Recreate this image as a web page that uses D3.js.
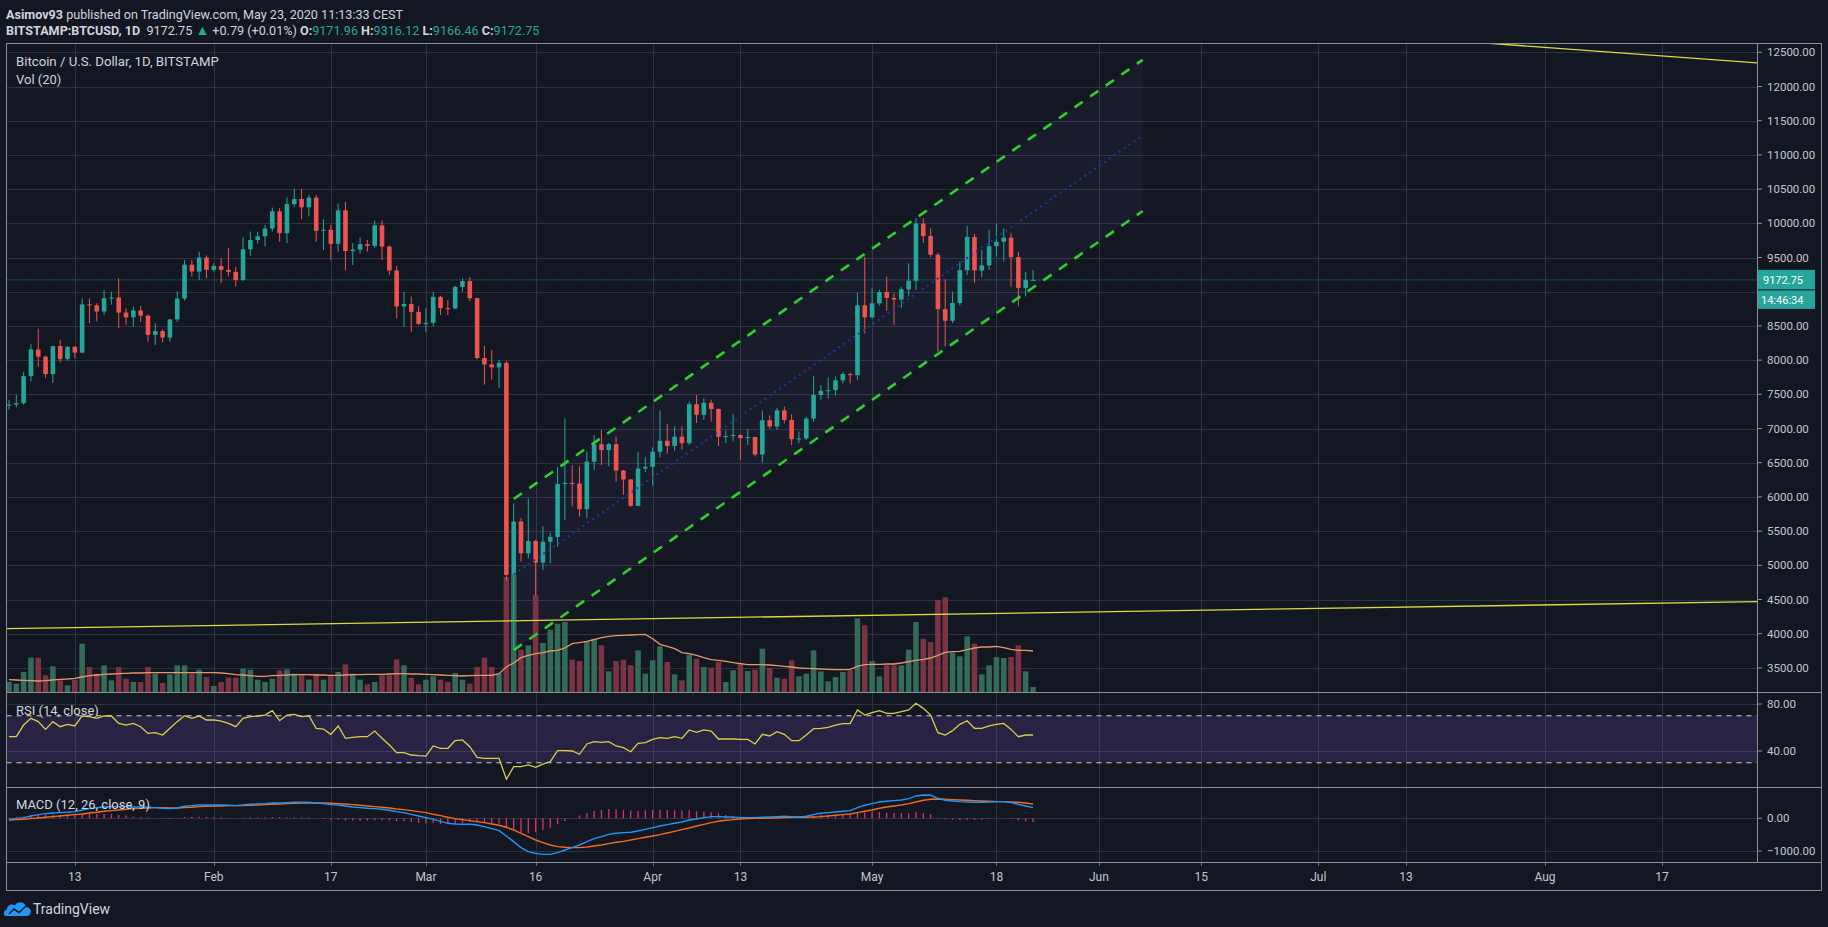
<!DOCTYPE html>
<html><head><meta charset="utf-8">
<script src="https://cdn.jsdelivr.net/npm/d3@7"></script>
<style>
html,body{margin:0;padding:0;background:#131722;overflow:hidden;}
svg{display:block;font-family:Roboto,"Noto Sans",sans-serif;}
text{white-space:pre;}
</style></head><body>
<svg id="chart" width="1828" height="927"></svg>
<script>
// ---------- DATA ----------
const startDate = "2020-01-04";
const endDate = "2020-05-23";
const opens = [7345,7350,7370,7765,8155,8050,7795,8205,8015,8195, 8110,8815,8800,8710,8905,8915,8695,8625,8725,8650, 8370,8425,8330,8595,8900,9395,9295,9500,9320,9375, 9320,9290,9170,9620,9755,9810,9925,10175,9855,10280, 10355,10235,10375,9890,9905,9700,10190,9595,9615,9695, 9670,9970,9660,9310,8785,8820,8705,8530,8545,8925, 8760,8755,9070,9155,8905,8030,7935,7895,7960,4860, 5640,5175,5355,5040,5345,5415,6190,6205,6195,5820, 6515,6770,6685,6770,6385,6255,5870,6415,6440,6660, 6820,6745,6880,6785,7355,7200,7375,7285,6880,6890, 6905,6860,6875,6620,7120,7030,7265,7125,6845,6855, 7145,7490,7550,7560,7705,7795,7780,8800,8625,8830, 8995,8910,8885,9035,9160,9995,9815,9540,8745,8575, 8835,9315,9800,9310,9385,9665,9730,9790,9505,9055, 9171.96];
const highs = [7415,7490,7830,8235,8460,8065,8210,8295,8200,8200, 8900,8900,8830,9025,9000,9195,8755,8780,8790,8670, 8540,8450,8600,9000,9465,9465,9585,9530,9415,9490, 9635,9365,9795,9880,9875,9975,10230,10220,10380,10510, 10500,10415,10415,10060,9975,10290,10315,9710,9795,9755, 10040,10040,9680,9375,9000,8930,8790,8760,9000,8935, 8880,9085,9195,9215,8910,8210,8150,8000,7985,5905, 5690,5975,5375,5570,5475,6440,7150,6465,6445,6660, 6905,6980,6790,6880,6395,6260,6660,6580,6725,7265, 7065,7030,7030,7395,7490,7440,7420,7295,6970,7210, 6920,6990,6880,7260,7190,7300,7320,7205,6955,7170, 7765,7635,7745,7760,7830,7815,8985,9510,9050,9030, 9220,8975,9070,9415,10075,10075,9925,9570,9180,9000, 9440,9960,9845,9610,9905,9990,9925,9855,9585,9290, 9316.12];
const lows = [7275,7310,7350,7690,7905,7735,7665,7965,7990,8030, 8100,8540,8565,8660,8810,8465,8515,8490,8560,8270, 8220,8255,8270,8560,8870,9220,9170,9195,9295,9125, 9220,9075,9160,9525,9705,9660,9880,9730,9710,10245, 10060,10100,9730,9610,9465,9585,9310,9390,9560,9585, 9640,9465,9245,8610,8490,8415,8510,8415,8490,8660, 8660,8740,9000,8860,8010,7640,7715,7590,4780,3780, 5055,5100,4560,4930,5030,5275,5665,5860,5710,5690, 6395,6465,6445,6225,6030,5855,5860,6360,6165,6580, 6630,6675,6690,6760,7080,7125,7100,6745,6785,6810, 6540,6760,6590,6505,6995,6980,7075,6760,6785,6830, 7100,7420,7440,7480,7660,7660,7710,8390,8610,8800, 8720,8515,8760,8930,9025,9715,9505,8120,8200,8540, 8800,9245,9130,9210,9320,9515,9445,9075,8785,8930, 9166.46];
const closes = [7350,7370,7765,8155,8050,7795,8205,8015,8195,8110, 8815,8800,8710,8905,8915,8695,8625,8725,8650,8370, 8425,8330,8595,8900,9395,9295,9500,9320,9375,9320, 9290,9170,9620,9755,9810,9925,10175,9855,10280,10355, 10235,10375,9890,9905,9700,10190,9595,9615,9695,9670, 9970,9660,9310,8785,8820,8705,8530,8545,8925,8760, 8755,9070,9155,8905,8030,7935,7895,7960,4860,5640, 5175,5355,5040,5345,5415,6190,6205,6195,5820,6515, 6770,6685,6770,6385,6255,5870,6415,6440,6660,6820, 6745,6880,6785,7355,7200,7375,7285,6880,6890,6905, 6860,6875,6620,7120,7030,7265,7125,6845,6855,7145, 7490,7550,7560,7705,7795,7780,8800,8625,8830,8995, 8910,8885,9035,9160,9995,9815,9540,8745,8575,8835, 9315,9800,9310,9385,9665,9730,9790,9505,9055,9170, 9172.75];
const volumes = [3000,2500,6000,10300,10300,5000,7700,3500,2000,3700, 14500,7500,5500,8000,3500,7500,4000,3000,3000,7500, 5500,2700,5300,8000,8000,5500,6700,4500,1800,3000, 4300,4300,7000,6700,3700,3000,4000,6500,6800,5500, 5200,3700,5500,3700,5000,6000,8300,5500,3700,2300, 3000,5000,5000,9800,8000,4300,2300,3700,4700,3700, 3000,5700,3700,2500,7500,10300,7500,5500,34500,35100, 12700,14000,29100,14700,18700,20500,21000,9700,9300,15300, 16000,14000,6200,9300,9700,8000,12500,5500,9500,13700, 9000,5300,3500,11200,10000,7500,7300,9000,3000,6500, 8700,6300,6700,13000,7300,4300,4000,9500,4700,5500, 12500,6200,3200,4500,6000,6500,22100,20000,9300,4700, 8000,8000,8000,12700,21000,16000,15000,27600,28400,11800, 10700,16700,14500,5300,8000,10500,10200,10500,14000,6200, 1500];
const volumeMA = [3700,3600,3500,3400,3300,3400,3600,3800,3900,4100, 4500,4900,5100,5300,5400,5500,5600,5700,5700,5800, 5800,5800,5800,5800,5800,5800,5800,5800,5800,5700, 5500,5200,5100,4900,4700,4700,4900,5000,5100,5200, 5200,5200,5100,5100,5000,5000,5100,5200,5200,5300, 5300,5300,5400,5500,5500,5400,5400,5300,5200,5100, 5000,4900,4800,4900,5000,5000,5000,5500,7500,8700, 10300,11000,11500,11800,12300,12500,13200,14500,14800,15200, 15700,16300,16700,16900,17000,17100,17200,17300,16000,14300, 13700,13000,11800,11500,11000,10300,9700,9500,9200,8800, 8500,8200,8200,8200,8100,7900,7700,7500,7200,7100, 7000,6900,6800,6700,6700,6800,7700,8200,8300,8300, 8400,8400,8700,9100,9500,9800,10200,11000,11900,12100, 12200,12700,13200,13500,13500,13700,13300,12800,12500,12500, 12300];
const rsiValues = [52.2,52.2,62.1,67.8,65,58.4,65,60.7,62.7,61.3, 69.8,69.2,67.8,69.8,69.8,63.5,62.1,63.5,60.7,55, 55.6,53.6,59.3,65,70,67.8,69.8,66.4,66.4,65.5, 63.5,60.7,67.8,69.2,69.8,70.6,74.3,65.8,70.6,71.2, 69.2,70,59.3,58.7,54.2,61.3,50.8,51.6,52.2,52.2, 57,50.8,45.1,38.6,38.6,36.6,36,35.7,44.3,42.3, 42.3,48.8,49.4,43.7,34.6,33.8,33.8,33.8,15.9,26.7, 26.7,28.1,26.1,28.9,30.9,40.3,40.3,40,37.2,46, 47.9,47.4,47.9,44.3,42.8,39.4,46.5,47.1,49.9,51.3, 50.8,52.2,50.8,57.9,55.9,57.9,57,50.2,50.2,50.2, 49.9,49.9,46,54.2,52.8,56.5,54.2,48.8,48.8,53.6, 59,59.3,60.1,62.1,63.3,63.3,74.9,70.6,72.6,74.3, 72.1,72.1,73.5,74.9,80.6,76.3,70.6,55.6,53.6,57.3, 62.7,65.8,59.3,59.3,61.3,62.7,63.5,58.4,52.2,53.6, 53.6];
const macdLine = [-31,-10,20,71,112,143,163,173,184,204, 255,296,326,347,357,357,357,347,347,337, 326,306,296,316,367,388,408,408,408,408, 398,388,408,428,439,449,469,469,479,490, 490,490,469,449,418,408,377,347,326,306, 296,275,245,204,173,122,71,20,-31,-92, -153,-173,-184,-184,-204,-255,-316,-377,-541,-714, -898,-1020,-1071,-1102,-1102,-1051,-969,-898,-816,-714, -622,-561,-490,-459,-439,-428,-388,-337,-286,-235, -194,-153,-112,-51,-20,20,51,51,41,31, 20,20,20,31,41,51,61,51,41,61, 112,153,173,194,214,235,326,398,449,500, 520,541,561,602,683,714,704,612,551,530, 510,500,490,490,500,510,510,479,428,377, 326];
const signalLine = [-51,-41,-31,-10,10,31,51,71,92,112, 133,163,184,214,235,255,275,296,306,316, 326,326,316,316,326,337,357,367,377,377, 388,388,388,398,408,418,428,439,449,459, 469,469,469,469,459,449,439,418,398,377, 357,337,316,286,265,235,204,173,122,82, 31,-10,-41,-71,-102,-133,-173,-214,-275,-357, -459,-561,-663,-745,-816,-867,-887,-898,-898,-877, -847,-816,-775,-734,-704,-663,-622,-581,-541,-500, -449,-398,-347,-296,-235,-184,-133,-92,-61,-41, -20,-10,0,0,10,10,20,31,31,31, 41,51,71,92,112,133,173,214,255,306, 347,377,408,449,500,551,581,592,581,571, 561,551,541,530,520,510,510,500,490,469, 439];
const priceTicks = [12500,12000,11500,11000,10500,10000,9500,9000,8500,8000,7500,7000,6500,6000,5500,5000,4500,4000,3500];
const rsiTicks = [80,40];
const rsiBands = [70,30];
const macdTicks = [0,-1000];
const tickDates = ["2020-01-13","2020-02-01","2020-02-17","2020-03-01","2020-03-16","2020-04-01","2020-04-13","2020-05-01","2020-05-18","2020-06-01","2020-06-15","2020-07-01","2020-07-13","2020-08-01","2020-08-17"];
const tickLabels = ["13","Feb","17","Mar","16","Apr","13","May","18","Jun","15","Jul","13","Aug","17"];
const channelDates = ["2020-03-13","2020-06-07"];
const channelUpper = [5970,12390];
const channelLower = [3760,10180];
const supportDates = ["2020-01-03","2020-08-31"];
const supportPrices = [4073,4470];
const resistDates = ["2020-07-22","2020-08-31"];
const resistPrices = [12650,12336];
const lastPrice = 9172.75;
const countdown = "14:46:34";

// ---------- LAYOUT ----------
const svg = d3.select("#chart");
const C = {bg:"#131722", grid:"#2f3340", frame:"#8c8f99", text:"#d1d4dc", axisText:"#c3c6ce",
  up:"#26a69a", down:"#ef5350", volUp:"#336a58", volDown:"#7a3342", teal:"#26a69a"};
const L = 6.5, R = 1757, FR = 1821, T = 43.5, B = 890.5;
const P = {top:T, bottom:692}, RS = {top:692, bottom:787}, MC = {top:787, bottom:862};

svg.append("rect").attr("width",1828).attr("height",927).attr("fill",C.bg);

const parse = d3.utcParse("%Y-%m-%d");
const dates = d3.utcDay.range(parse(startDate), d3.utcDay.offset(parse(endDate),1));
const x = d3.scaleUtc().domain([parse(startDate), parse(endDate)]).range([9, 1033]);
const step = x(dates[1]) - x(dates[0]);
const y = d3.scaleLinear().domain([3500,12500]).range([667.9,52.3]);
const yVol = d3.scaleLinear().domain([0,40000]).range([692,692-133.3]);
const yRsi = d3.scaleLinear().domain([40,80]).range([751,704]);
const yMacd = d3.scaleLinear().domain([-1000,0]).range([851,818.3]);

const defs = svg.append("defs");
function clip(id, y0, y1){
  defs.append("clipPath").attr("id",id).append("rect").attr("x",L).attr("y",y0).attr("width",R-L).attr("height",y1-y0);
}
clip("cp",P.top,P.bottom); clip("cr",RS.top,RS.bottom); clip("cm",MC.top,MC.bottom);

// ---------- GRID ----------
const grid = svg.append("g").attr("shape-rendering","crispEdges").attr("stroke",C.grid).attr("stroke-width",1);
tickDates.forEach(d=>{
  const xx = Math.round(x(parse(d)))+0.5;
  grid.append("line").attr("x1",xx).attr("x2",xx).attr("y1",T).attr("y2",MC.bottom);
  grid.append("line").attr("x1",xx).attr("x2",xx).attr("y1",MC.bottom).attr("y2",MC.bottom+4).attr("stroke","#6a6d78");
});
priceTicks.forEach(p=>{
  const yy = Math.round(y(p))+0.5;
  grid.append("line").attr("x1",L).attr("x2",R).attr("y1",yy).attr("y2",yy);
});
rsiTicks.forEach(v=>{ const yy=Math.round(yRsi(v))+0.5; grid.append("line").attr("x1",L).attr("x2",R).attr("y1",yy).attr("y2",yy); });
macdTicks.forEach(v=>{ const yy=Math.round(yMacd(v))+0.5; grid.append("line").attr("x1",L).attr("x2",R).attr("y1",yy).attr("y2",yy); });

// ---------- PRICE PANE ----------
const gp = svg.append("g").attr("clip-path","url(#cp)");

const cd = channelDates.map(parse);
gp.append("path")
  .attr("d", d3.line()([[x(cd[0]),y(channelUpper[0])],[x(cd[1]),y(channelUpper[1])],[x(cd[1]),y(channelLower[1])],[x(cd[0]),y(channelLower[0])]])+"Z")
  .attr("fill","#8a94c8").attr("opacity",0.055);

const gv = gp.append("g");
dates.forEach((d,i)=>{
  if(volumes[i]==null) return;
  const up = closes[i] >= opens[i];
  gv.append("rect").attr("x",x(d)-step*0.38).attr("width",step*0.76)
    .attr("y",yVol(volumes[i])).attr("height",yVol(0)-yVol(volumes[i]))
    .attr("fill", up?C.volUp:C.volDown);
});
gp.append("path").datum(volumeMA)
  .attr("d", d3.line().x((v,i)=>x(dates[i])).y(v=>yVol(v)))
  .attr("fill","none").attr("stroke","#e5976a").attr("stroke-width",1.3);

gp.append("line").attr("x1",x(parse(supportDates[0]))).attr("y1",y(supportPrices[0]))
  .attr("x2",x(parse(supportDates[1]))).attr("y2",y(supportPrices[1]))
  .attr("stroke","#e1d83c").attr("stroke-width",1.3);
gp.append("line").attr("x1",x(parse(resistDates[0]))).attr("y1",y(resistPrices[0]))
  .attr("x2",x(parse(resistDates[1]))).attr("y2",y(resistPrices[1]))
  .attr("stroke","#e1d83c").attr("stroke-width",1.3);

gp.append("line").attr("x1",L).attr("x2",R).attr("y1",y(lastPrice)).attr("y2",y(lastPrice))
  .attr("stroke",C.teal).attr("stroke-width",1).attr("stroke-dasharray","1,2");

const gc = gp.append("g");
dates.forEach((d,i)=>{
  const up = closes[i] >= opens[i];
  const col = up?C.up:C.down;
  const cx = x(d);
  gc.append("line").attr("x1",cx).attr("x2",cx).attr("y1",y(highs[i])).attr("y2",y(lows[i]))
    .attr("stroke",col).attr("stroke-width",1);
  const yt = y(Math.max(opens[i],closes[i])), yb = y(Math.min(opens[i],closes[i]));
  gc.append("rect").attr("x",cx-2.3).attr("width",4.6).attr("y",yt).attr("height",Math.max(1,yb-yt)).attr("fill",col);
});

const mid0 = (channelUpper[0]+channelLower[0])/2, mid1 = (channelUpper[1]+channelLower[1])/2;
gp.append("line").attr("x1",x(cd[0])).attr("y1",y(mid0)).attr("x2",x(cd[1])).attr("y2",y(mid1))
  .attr("stroke","#2630a0").attr("stroke-width",2).attr("stroke-dasharray","2,4");
[channelUpper, channelLower].forEach(ch=>{
  gp.append("line").attr("x1",x(cd[0])).attr("y1",y(ch[0])).attr("x2",x(cd[1])).attr("y2",y(ch[1]))
    .attr("stroke","#2fd12f").attr("stroke-width",2.6).attr("stroke-dasharray","10,9");
});

// ---------- RSI PANE ----------
const gr = svg.append("g").attr("clip-path","url(#cr)");
gr.append("rect").attr("x",L).attr("width",R-L).attr("y",yRsi(rsiBands[0])).attr("height",yRsi(rsiBands[1])-yRsi(rsiBands[0]))
  .attr("fill","#7e57c2").attr("opacity",0.2);
rsiBands.forEach(v=>{
  gr.append("line").attr("x1",L).attr("x2",R).attr("y1",yRsi(v)).attr("y2",yRsi(v))
    .attr("stroke","#c9cbd1").attr("stroke-width",1).attr("stroke-dasharray","5,5");
});
gr.append("path").datum(rsiValues)
  .attr("d", d3.line().x((v,i)=>x(dates[i])).y(v=>yRsi(v)))
  .attr("fill","none").attr("stroke","#d9cf4c").attr("stroke-width",1.3);

// ---------- MACD PANE ----------
const gm = svg.append("g").attr("clip-path","url(#cm)");
dates.forEach((d,i)=>{
  const h = macdLine[i]-signalLine[i];
  gm.append("line").attr("x1",x(d)).attr("x2",x(d)).attr("y1",yMacd(0)).attr("y2",yMacd(h))
    .attr("stroke","#e0306c").attr("stroke-width",1.3);
});
gm.append("path").datum(signalLine)
  .attr("d", d3.line().x((v,i)=>x(dates[i])).y(v=>yMacd(v)))
  .attr("fill","none").attr("stroke","#f26b1d").attr("stroke-width",1.4);
gm.append("path").datum(macdLine)
  .attr("d", d3.line().x((v,i)=>x(dates[i])).y(v=>yMacd(v)))
  .attr("fill","none").attr("stroke","#2196f3").attr("stroke-width",1.4);

// ---------- FRAME ----------
const fr = svg.append("g").attr("stroke",C.frame).attr("stroke-width",1).attr("shape-rendering","crispEdges").attr("fill","none");
fr.append("rect").attr("x",L).attr("y",T).attr("width",FR-L).attr("height",B-T);
fr.append("line").attr("x1",R).attr("x2",R).attr("y1",T).attr("y2",MC.bottom);
[P.bottom, RS.bottom, MC.bottom].forEach(v=>fr.append("line").attr("x1",L).attr("x2",FR).attr("y1",v).attr("y2",v));

// ---------- RIGHT AXIS ----------
const ly = y(lastPrice);
const ax = svg.append("g").attr("font-size",11.5).attr("fill",C.axisText);
function axisLabel(yy, txt){
  ax.append("line").attr("x1",R).attr("x2",R+5).attr("y1",yy).attr("y2",yy).attr("stroke","#8c8f99");
  ax.append("text").attr("x",1767).attr("y",yy).attr("dy","0.35em").text(txt);
}
// price labels hidden behind the last-price / countdown boxes are skipped
priceTicks.filter(p=>{ const yy=y(p); return yy < ly-18 || yy > ly+36; })
  .forEach(p=>axisLabel(y(p), d3.format(".2f")(p)));
rsiTicks.forEach(v=>axisLabel(yRsi(v), d3.format(".2f")(v)));
macdTicks.forEach(v=>axisLabel(yMacd(v), v<0 ? "\u2212"+d3.format(".2f")(-v) : d3.format(".2f")(v)));

svg.append("rect").attr("x",R+1).attr("y",ly-10).attr("width",57).attr("height",19.5).attr("fill",C.teal);
svg.append("text").attr("x",1763).attr("y",ly).attr("dy","0.34em").attr("font-size",11).attr("fill","#ffffff").text(d3.format(".2f")(lastPrice));
svg.append("rect").attr("x",R+1).attr("y",ly+10.5).attr("width",57).attr("height",18.5).attr("fill",C.teal);
svg.append("text").attr("x",1761).attr("y",ly+19.9).attr("dy","0.34em").attr("font-size",11).attr("fill","#ffffff").text(countdown);

// ---------- TIME AXIS ----------
tickDates.forEach((d,i)=>{
  svg.append("text").attr("x",x(parse(d))).attr("y",877).attr("dy","0.35em").attr("text-anchor","middle")
    .attr("font-size",12).attr("fill",C.axisText).text(tickLabels[i]);
});

// ---------- TEXTS ----------
const t1 = svg.append("text").attr("x",6).attr("y",18.5).attr("font-size",12.6).attr("fill",C.text);
t1.append("tspan").attr("font-weight","bold").text("Asimov93");
t1.append("tspan").text(" published on TradingView.com, May 23, 2020 11:13:33 CEST");

const t2 = svg.append("text").attr("x",6).attr("y",34.5).attr("font-size",12.6).attr("fill",C.text);
t2.append("tspan").attr("font-weight","bold").text("BITSTAMP:BTCUSD, 1D");
t2.append("tspan").text("  9172.75 ");
t2.append("tspan").attr("fill",C.teal).attr("font-size",14).text("▲");
t2.append("tspan").text(" +0.79 (+0.01%) ");
[["O:","9171.96"],["H:","9316.12"],["L:","9166.46"],["C:","9172.75"]].forEach((p,i)=>{
  t2.append("tspan").attr("font-weight","bold").text((i?" ":"")+p[0]);
  t2.append("tspan").attr("fill",C.teal).text(p[1]);
});

svg.append("text").attr("x",16).attr("y",65.5).attr("font-size",13.2).attr("fill",C.text).text("Bitcoin / U.S. Dollar, 1D, BITSTAMP");
svg.append("text").attr("x",16).attr("y",83.5).attr("font-size",13).attr("fill",C.text).text("Vol (20)");
svg.append("text").attr("x",16).attr("y",714.5).attr("font-size",13).attr("fill",C.text).text("RSI (14, close)");
svg.append("text").attr("x",16).attr("y",808.5).attr("font-size",13).attr("fill",C.text).text("MACD (12, 26, close, 9)");

// ---------- LOGO ----------
const lg = svg.append("g");
lg.append("path").attr("d","M6,916 C3,916 3,910 7,909.5 C7,905 12,903 15,905.5 C17,901 25,901 26,907 C30,907 32,911 30,914 C29,915.5 28,916 27,916 Z").attr("fill","#2196f3");
lg.append("polyline").attr("points","9,914 14,909 19,912.5 26,906").attr("fill","none").attr("stroke","#131722").attr("stroke-width",1.6);
svg.append("text").attr("x",33).attr("y",914).attr("font-size",14).attr("fill",C.text).text("TradingView");
</script>
</body></html>
